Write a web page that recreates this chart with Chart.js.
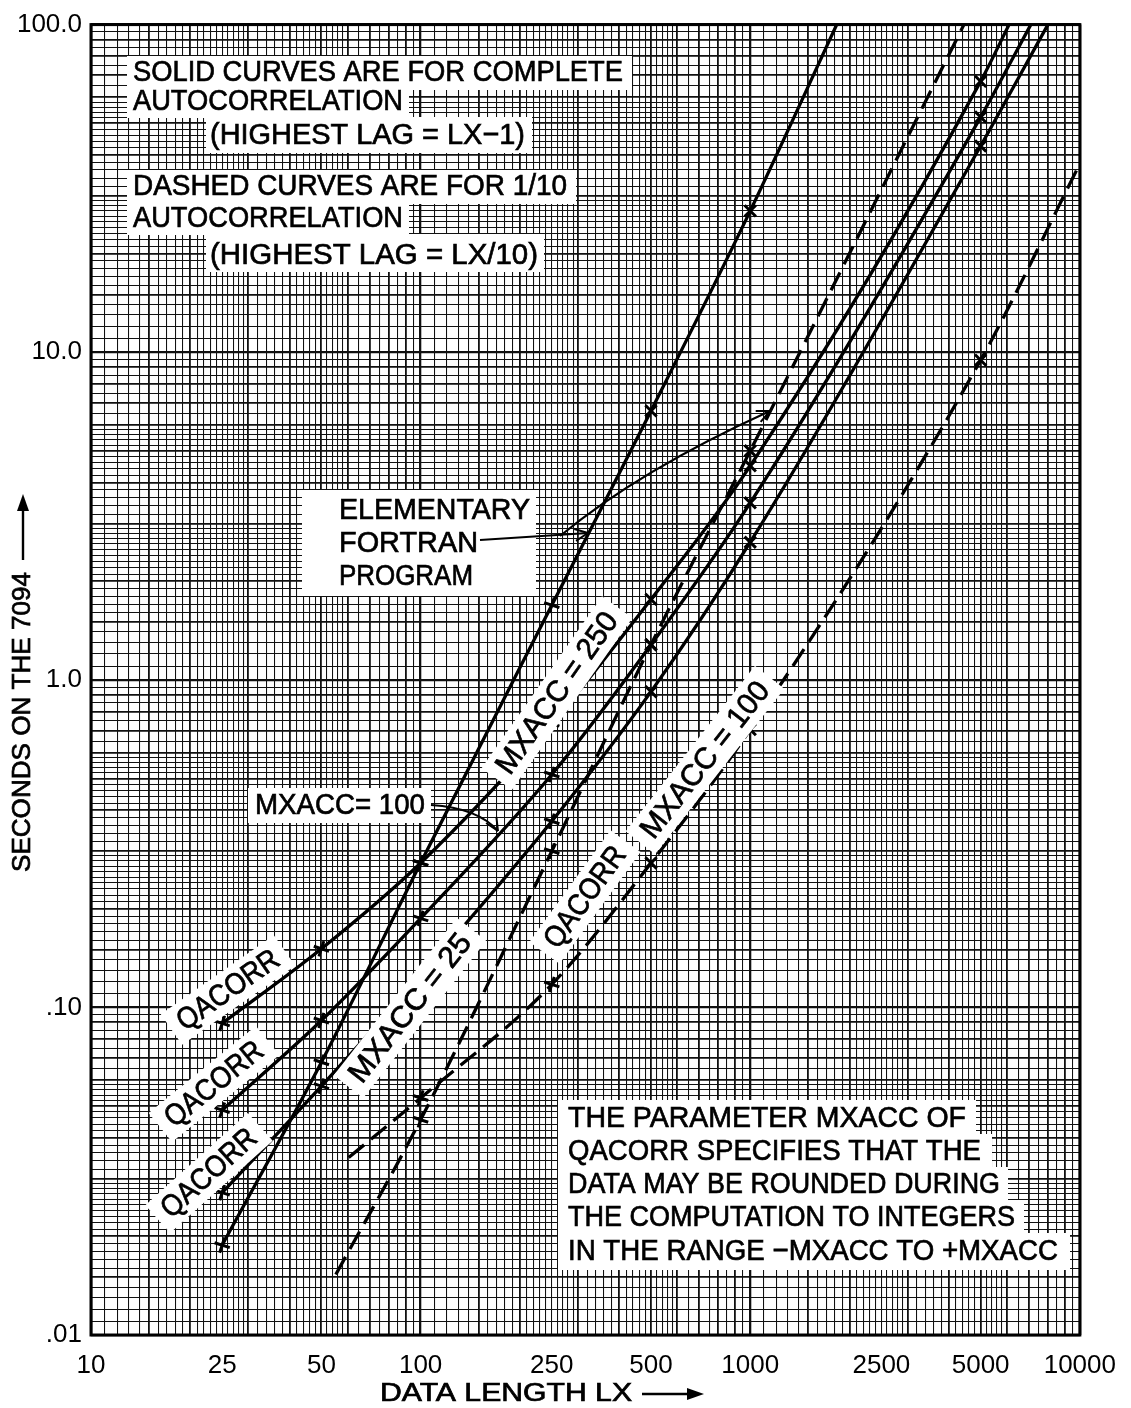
<!DOCTYPE html>
<html>
<head>
<meta charset="utf-8">
<script src="https://cdn.jsdelivr.net/npm/chart.js@4/dist/chart.umd.min.js"></script>
<style>
  html, body { margin: 0; padding: 0; background: #fff; }
  #wrap { width: 1131px; height: 1408px; }
</style>
</head>
<body>
<div id="wrap"><canvas id="c" width="1131" height="1408"></canvas></div>
<script>
// Data lengths at which the timings were measured
const dataLength = [25, 50, 100, 250, 500, 1000, 5000];

// Seconds on the 7094, complete autocorrelation (highest lag = LX-1)
const elementaryFull = [0.0188, 0.068, 0.276, 1.69, 6.62, 27.0, null];
const qacorr250Full  = [0.0894, 0.151, 0.276, 0.735, 1.76, 4.5, 67.1];
const qacorr100Full  = [0.0486, 0.0912, 0.187, 0.514, 1.28, 3.47, 52.2];
const qacorr25Full   = [0.0272, 0.0575, 0.125, 0.37, 0.92, 2.63, 42.6];

// Seconds on the 7094, 1/10 autocorrelation (highest lag = LX/10)
const elementaryTenth = [null, null, 0.0454, 0.30, 1.28, 5.0, null];
const qacorr100Tenth  = [null, null, 0.0529, 0.1175, 0.276, 0.705, 9.46];

// Unmarked ends of the curves [LX, seconds]
const elementaryFullEnd    = [1830, 100];
const qacorr250FullEnd     = [6100, 100];
const qacorr100FullEnd     = [7100, 100];
const qacorr25FullEnd      = [8000, 100];
const elementaryTenthStart = [55.3, 0.0153];
const elementaryTenthEnd   = [4450, 100];
const qacorr100TenthStart  = [60.5, 0.0348];
const qacorr100TenthEnd    = [10000, 37.6];

// Axis labels
const xTickValues = [10, 25, 50, 100, 250, 500, 1000, 2500, 5000, 10000];
const xTickLabels = ['10', '25', '50', '100', '250', '500', '1000', '2500', '5000', '10000'];
const yTickValues = [100, 10, 1, 0.1, 0.01];
const yTickLabels = ['100.0', '10.0', '1.0', '.10', '.01'];

const FONT = '"Liberation Sans", Arial, sans-serif';

// ruling of the log paper inside one decade: [from, to, step]
const RULING = [[1, 3, 0.1], [3, 6, 0.2], [6, 10, 0.5]];

function paperLines(min, max) {
  const out = [];
  const d0 = Math.round(Math.log10(min)), d1 = Math.round(Math.log10(max));
  for (let d = d0; d < d1; d++) {
    const base = Math.pow(10, d);
    for (const [a, b, s] of RULING) {
      const n = Math.round((b - a) / s);
      for (let k = 0; k < n; k++) out.push(+((a + k * s) * base).toPrecision(8));
    }
  }
  out.push(max);
  return out;
}

function lineWeight(v) {
  const l = Math.log10(v);
  if (Math.abs(l - Math.round(l)) < 1e-6) return 2.3;
  const m = v / Math.pow(10, Math.floor(l + 1e-9));
  if (Math.abs(m - Math.round(m)) < 1e-6 || Math.abs(m - 1.5) < 1e-6) return 1.8;
  return 1.05;
}

function labelFor(values, labels, v) {
  for (let i = 0; i < values.length; i++) {
    if (Math.abs(values[i] - v) / values[i] < 1e-6) return labels[i];
  }
  return '';
}

function series(values, start, end) {
  const pts = [];
  if (start) pts.push({ x: start[0], y: start[1], marked: false });
  dataLength.forEach((lx, i) => {
    if (values[i] != null) pts.push({ x: lx, y: values[i], marked: true });
  });
  if (end) pts.push({ x: end[0], y: end[1], marked: false });
  return pts;
}

function curve(label, pts, dashed) {
  return {
    label,
    data: pts,
    borderColor: '#000',
    backgroundColor: '#000',
    borderWidth: 3.3,
    borderDash: dashed ? [20, 9] : [],
    cubicInterpolationMode: 'monotone',
    fill: false,
    pointStyle: 'cross',
    pointRotation: (c) => (c.raw && c.raw.x >= 500 ? 45 : 18),
    pointRadius: (c) => (c.raw && c.raw.marked ? 8 : 0),
    pointBorderWidth: 3,
    pointBorderColor: '#000',
    pointHoverRadius: 0
  };
}

const datasets = [
  curve('Elementary FORTRAN, complete', series(elementaryFull, null, elementaryFullEnd), false),
  curve('QACORR MXACC=250, complete', series(qacorr250Full, null, qacorr250FullEnd), false),
  curve('QACORR MXACC=100, complete', series(qacorr100Full, null, qacorr100FullEnd), false),
  curve('QACORR MXACC=25, complete', series(qacorr25Full, null, qacorr25FullEnd), false),
  curve('Elementary FORTRAN, 1/10', series(elementaryTenth, elementaryTenthStart, elementaryTenthEnd), true),
  curve('QACORR MXACC=100, 1/10', series(qacorr100Tenth, qacorr100TenthStart, qacorr100TenthEnd), true)
];

// ---- annotation drawing helpers ----
function whiteRect(ctx, x0, y0, x1, y1) {
  ctx.fillStyle = '#fff';
  ctx.fillRect(x0, y0, x1 - x0, y1 - y0);
}

// lettering: text stretched to a given width, slightly thickened
function letter(ctx, s, x, y, size, width) {
  ctx.save();
  ctx.font = size + 'px ' + FONT;
  ctx.textBaseline = 'middle';
  ctx.textAlign = 'left';
  const w = ctx.measureText(s).width;
  ctx.translate(x, y);
  ctx.scale(width / w, 1);
  ctx.fillStyle = '#000';
  ctx.strokeStyle = '#000';
  ctx.lineWidth = 0.7;
  ctx.fillText(s, 0, 0);
  ctx.strokeText(s, 0, 0);
  ctx.restore();
}

function rotatedLabel(ctx, s, cx, cy, deg, size, width) {
  ctx.save();
  ctx.translate(cx, cy);
  ctx.rotate(deg * Math.PI / 180);
  ctx.fillStyle = '#fff';
  ctx.fillRect(-width / 2 - 10, -size * 0.62, width + 20, size * 1.24);
  ctx.font = size + 'px ' + FONT;
  const w = ctx.measureText(s).width;
  ctx.scale(width / w, 1);
  ctx.fillStyle = '#000';
  ctx.strokeStyle = '#000';
  ctx.lineWidth = 0.7;
  ctx.textAlign = 'center';
  ctx.textBaseline = 'middle';
  ctx.fillText(s, 0, 1);
  ctx.strokeText(s, 0, 1);
  ctx.restore();
}

function arrowHead(ctx, x, y, ang, len, wid) {
  ctx.beginPath();
  ctx.moveTo(x, y);
  ctx.lineTo(x - len * Math.cos(ang) + wid * Math.sin(ang), y - len * Math.sin(ang) - wid * Math.cos(ang));
  ctx.moveTo(x, y);
  ctx.lineTo(x - len * Math.cos(ang) - wid * Math.sin(ang), y - len * Math.sin(ang) + wid * Math.cos(ang));
  ctx.stroke();
}

function filledArrowHead(ctx, x, y, ang, len, wid) {
  ctx.beginPath();
  ctx.moveTo(x, y);
  ctx.lineTo(x - len * Math.cos(ang) + wid * Math.sin(ang), y - len * Math.sin(ang) - wid * Math.cos(ang));
  ctx.lineTo(x - len * Math.cos(ang) - wid * Math.sin(ang), y - len * Math.sin(ang) + wid * Math.cos(ang));
  ctx.closePath();
  ctx.fill();
}

const notes = {
  id: 'notes',
  afterDatasetsDraw(chart) {
    const ctx = chart.ctx;
    const a = chart.chartArea;
    ctx.save();

    // explanation of solid / dashed curves
    whiteRect(ctx, 127, 56, 632, 90);
    whiteRect(ctx, 127, 88, 409, 118);
    whiteRect(ctx, 206, 117, 532, 153);
    whiteRect(ctx, 127, 170, 576, 204);
    whiteRect(ctx, 127, 202, 409, 235);
    whiteRect(ctx, 206, 234, 544, 272);
    letter(ctx, 'SOLID CURVES ARE FOR COMPLETE', 133, 73, 30, 490);
    letter(ctx, 'AUTOCORRELATION', 133, 102, 30, 270);
    letter(ctx, '(HIGHEST LAG = LX\u22121)', 210, 136, 30, 315);
    letter(ctx, 'DASHED CURVES ARE FOR 1/10', 133, 187, 30, 434);
    letter(ctx, 'AUTOCORRELATION', 133, 219, 30, 270);
    letter(ctx, '(HIGHEST LAG = LX/10)', 210, 256, 30, 328);

    // elementary FORTRAN program
    whiteRect(ctx, 302, 490, 536, 596);
    letter(ctx, 'ELEMENTARY', 339, 511, 30, 191);
    letter(ctx, 'FORTRAN', 339, 544, 30, 139);
    letter(ctx, 'PROGRAM', 339, 577, 30, 134);

    // parameter note
    whiteRect(ctx, 558, 1100, 976, 1136);
    whiteRect(ctx, 558, 1134, 992, 1170);
    whiteRect(ctx, 558, 1167, 1008, 1203);
    whiteRect(ctx, 558, 1200, 1024, 1236);
    whiteRect(ctx, 558, 1233, 1070, 1270);
    letter(ctx, 'THE PARAMETER MXACC OF', 568, 1119, 30, 398);
    letter(ctx, 'QACORR SPECIFIES THAT THE', 568, 1152, 30, 413);
    letter(ctx, 'DATA MAY BE ROUNDED DURING', 568, 1185, 30, 432);
    letter(ctx, 'THE COMPUTATION TO INTEGERS', 568, 1218, 30, 447);
    letter(ctx, 'IN THE RANGE \u2212MXACC TO +MXACC', 568, 1252, 30, 490);

    // MXACC = 100 callout
    whiteRect(ctx, 248, 788, 431, 823);
    letter(ctx, 'MXACC= 100', 255, 806, 30, 170);

    // curve labels along the lines
    rotatedLabel(ctx, 'QACORR', 228, 990, -35, 30, 118);
    rotatedLabel(ctx, 'QACORR', 214, 1084, -39, 30, 118);
    rotatedLabel(ctx, 'QACORR', 209, 1173, -42, 30, 118);
    rotatedLabel(ctx, 'MXACC = 25', 410, 1008, -52, 30, 180);
    rotatedLabel(ctx, 'MXACC = 250', 557, 693, -55, 30, 190);
    rotatedLabel(ctx, 'QACORR', 585, 897, -54, 30, 118);
    rotatedLabel(ctx, 'MXACC = 100', 705, 760, -52, 30, 190);

    // pointers
    ctx.strokeStyle = '#000';
    ctx.lineWidth = 2;
    ctx.beginPath();
    ctx.moveTo(431, 805);
    ctx.quadraticCurveTo(478, 808, 498, 831);
    ctx.stroke();
    arrowHead(ctx, 498, 831, Math.atan2(23, 14), 13, 6);

    ctx.beginPath();
    ctx.moveTo(480, 540);
    ctx.lineTo(588, 533);
    ctx.stroke();
    arrowHead(ctx, 588, 533, Math.atan2(-3, 20), 13, 6);

    ctx.beginPath();
    ctx.moveTo(560, 536);
    ctx.quadraticCurveTo(640, 470, 770, 411);
    ctx.stroke();
    arrowHead(ctx, 770, 411, Math.atan2(-25, 55), 13, 6);

    // frame
    ctx.lineWidth = 3;
    ctx.strokeRect(a.left, a.top, a.right - a.left, a.bottom - a.top);

    // axis titles
    letter(ctx, 'DATA LENGTH LX', 380, 1394, 25, 252);
    ctx.fillStyle = '#000';
    ctx.lineWidth = 2.4;
    ctx.beginPath();
    ctx.moveTo(642, 1394);
    ctx.lineTo(690, 1394);
    ctx.stroke();
    filledArrowHead(ctx, 704, 1394, 0, 17, 6);

    ctx.save();
    ctx.translate(23, 872);
    ctx.rotate(-Math.PI / 2);
    letter(ctx, 'SECONDS ON THE 7094', 0, 0, 25, 300);
    ctx.restore();
    ctx.fillStyle = '#000';
    ctx.beginPath();
    ctx.moveTo(23, 560);
    ctx.lineTo(23, 508);
    ctx.stroke();
    filledArrowHead(ctx, 23, 494, -Math.PI / 2, 17, 6);

    ctx.restore();
  }
};

const tickFont = { family: FONT, size: 26 };

new Chart(document.getElementById('c'), {
  type: 'line',
  data: { datasets },
  options: {
    responsive: false,
    animation: false,
    devicePixelRatio: 1,
    layout: { padding: { top: 20, right: 47, left: 0, bottom: 0 } },
    plugins: { legend: { display: false }, tooltip: { enabled: false } },
    scales: {
      x: {
        type: 'logarithmic',
        min: 10,
        max: 10000,
        afterBuildTicks: (s) => { s.ticks = paperLines(10, 10000).map((v) => ({ value: v })); },
        afterFit: (s) => { s.height = 73; },
        border: { display: false },
        grid: {
          color: '#111',
          lineWidth: (c) => lineWeight(c.tick.value),
          drawTicks: false
        },
        ticks: {
          autoSkip: false,
          maxRotation: 0,
          minRotation: 0,
          padding: 15,
          color: '#000',
          font: tickFont,
          callback: (v) => labelFor(xTickValues, xTickLabels, v)
        }
      },
      y: {
        type: 'logarithmic',
        min: 0.01,
        max: 100,
        afterBuildTicks: (s) => { s.ticks = paperLines(0.01, 100).map((v) => ({ value: v })); },
        afterFit: (s) => { s.width = 91; },
        border: { display: false },
        grid: {
          color: '#111',
          lineWidth: (c) => lineWeight(c.tick.value),
          drawTicks: false
        },
        ticks: {
          autoSkip: false,
          padding: 9,
          color: '#000',
          font: tickFont,
          callback: (v) => labelFor(yTickValues, yTickLabels, v)
        }
      }
    }
  },
  plugins: [notes]
});
</script>
</body>
</html>
